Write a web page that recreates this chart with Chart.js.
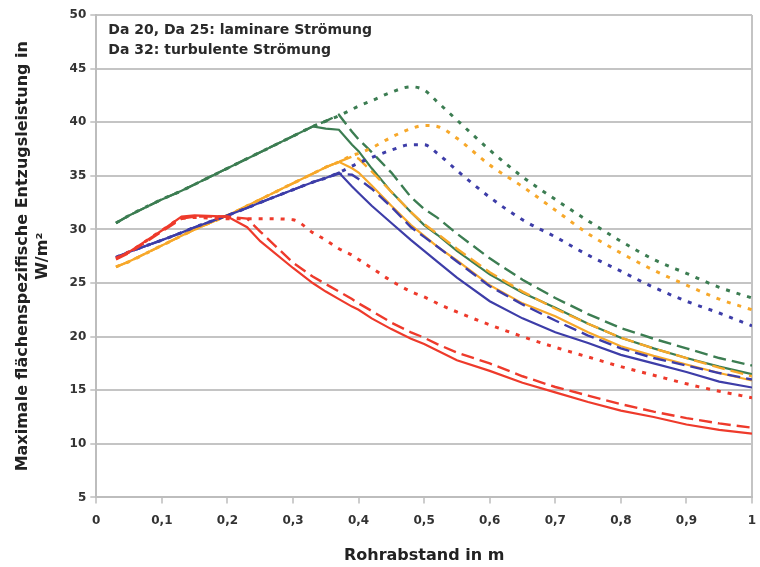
<!DOCTYPE html>
<html>
<head>
<meta charset="utf-8">
<script src="https://cdn.jsdelivr.net/npm/chart.js@4.4.1/dist/chart.umd.min.js"></script>
<style>
html,body{margin:0;padding:0;background:#fff;}
#wrap{width:760px;height:567px;}
</style>
</head>
<body>
<div id="wrap"><canvas id="c" width="760" height="567"></canvas></div>
<script>
// Rohrabstand (m)
const X = [0.03,0.05,0.1,0.13,0.15,0.2,0.23,0.25,0.3,0.33,0.35,0.37,0.39,0.4,0.42,0.45,0.48,0.5,0.52,0.55,0.6,0.65,0.7,0.75,0.8,0.85,0.9,0.95,1.0];

const redSolid     = [27.3,27.9,29.9,31.2,31.3,31.2,30.2,28.9,26.4,25.0,24.2,23.5,22.8,22.5,21.7,20.7,19.8,19.3,18.7,17.8,16.8,15.7,14.8,13.9,13.1,12.5,11.8,11.3,10.95];
const redDashed    = [27.2,27.8,29.8,31.0,31.2,31.2,31.0,29.8,26.9,25.6,24.9,24.2,23.5,23.1,22.4,21.3,20.4,19.9,19.3,18.5,17.5,16.3,15.3,14.5,13.7,13.0,12.4,11.9,11.5];
const redDotted    = [27.3,27.9,29.9,31.0,31.1,31.0,31.0,31.0,30.9,29.7,29.0,28.2,27.6,27.2,26.4,25.2,24.2,23.7,23.1,22.3,21.1,20.0,19.0,18.1,17.2,16.4,15.6,14.9,14.3];

const blueSolid    = [27.4,27.9,29.0,29.7,30.2,31.3,32.0,32.5,33.7,34.4,34.8,35.3,34.0,33.4,32.2,30.6,29.0,28.0,27.0,25.5,23.3,21.7,20.4,19.4,18.3,17.5,16.7,15.8,15.25];
const blueDashed   = [27.4,27.9,29.0,29.7,30.2,31.3,32.0,32.5,33.7,34.4,34.8,35.2,35.1,34.7,33.8,32.1,30.2,29.3,28.4,27.0,24.7,23.0,21.5,20.1,18.9,18.0,17.3,16.6,16.0];
const blueDotted   = [27.4,27.9,29.0,29.7,30.2,31.3,32.0,32.5,33.7,34.4,34.8,35.3,35.9,36.2,36.7,37.4,37.9,37.9,37.1,35.5,33.0,30.9,29.3,27.6,26.1,24.6,23.3,22.2,21.0];

const orangeSolid  = [26.5,27.0,28.5,29.4,30.0,31.3,32.2,32.8,34.3,35.2,35.8,36.3,35.7,35.3,34.1,32.2,30.4,29.4,28.4,27.1,24.8,23.1,21.9,20.4,19.1,18.2,17.4,16.6,15.9];
const orangeDashed = [26.5,27.0,28.5,29.4,30.0,31.3,32.2,32.8,34.3,35.2,35.8,36.3,36.8,36.6,35.4,33.5,31.6,30.5,29.6,28.2,26.0,24.2,22.6,21.2,19.9,18.9,18.0,17.1,16.3];
const orangeDotted = [26.5,27.0,28.5,29.4,30.0,31.3,32.2,32.8,34.3,35.2,35.8,36.3,36.9,37.1,37.6,38.6,39.4,39.7,39.6,38.5,36.0,34.0,31.8,29.6,27.8,26.2,24.8,23.5,22.5];

const greenSolid   = [30.6,31.3,32.8,33.6,34.2,35.7,36.6,37.2,38.7,39.6,39.4,39.3,37.9,37.3,35.7,33.5,31.6,30.4,29.5,28.0,25.8,24.1,22.7,21.2,19.9,18.9,18.0,17.2,16.5];
const greenDashed  = [30.6,31.3,32.8,33.6,34.2,35.7,36.6,37.2,38.7,39.6,40.1,40.7,39.1,38.4,37.2,35.3,33.0,31.9,31.1,29.6,27.3,25.3,23.6,22.1,20.8,19.8,18.9,18.0,17.3];
const greenDotted  = [30.6,31.3,32.8,33.6,34.2,35.7,36.6,37.2,38.7,39.6,40.1,40.6,41.2,41.5,42.0,42.8,43.3,43.0,41.9,40.2,37.4,34.9,32.8,30.8,28.9,27.2,25.9,24.6,23.6];

const noteLines = ["Da 20, Da 25: laminare Strömung", "Da 32: turbulente Strömung"];
const yTitle = ["Maximale flächenspezifische Entzugsleistung in", "W/m²"];
const xTitle = "Rohrabstand in m";

const COLORS = {red:'#ee3a2b', blue:'#3d3da8', orange:'#f7a82a', green:'#3c7d52'};
const STYLES = {
  solid:  {dash: [],     width: 2.2},
  dashed: {dash: [13,6], width: 2.4},
  dotted: {dash: [4,7],  width: 3}
};

function pts(arr){ return X.map((x,i)=>({x:x, y:arr[i]})).filter(p=>p.y!==null); }
function ds(label, arr, color, style){
  const s = STYLES[style];
  return {
    label: label, data: pts(arr), borderColor: COLORS[color], backgroundColor: COLORS[color],
    borderWidth: s.width, borderDash: s.dash, pointRadius: 0, fill: false,
    tension: 0, cubicInterpolationMode: style==='dotted' ? 'monotone' : 'default'
  };
}

const datasets = [
  ds('rot Da 20', redSolid, 'red', 'solid'),
  ds('rot Da 25', redDashed, 'red', 'dashed'),
  ds('rot Da 32', redDotted, 'red', 'dotted'),
  ds('blau Da 20', blueSolid, 'blue', 'solid'),
  ds('blau Da 25', blueDashed, 'blue', 'dashed'),
  ds('blau Da 32', blueDotted, 'blue', 'dotted'),
  ds('orange Da 20', orangeSolid, 'orange', 'solid'),
  ds('orange Da 25', orangeDashed, 'orange', 'dashed'),
  ds('orange Da 32', orangeDotted, 'orange', 'dotted'),
  ds('grün Da 20', greenSolid, 'green', 'solid'),
  ds('grün Da 25', greenDashed, 'green', 'dashed'),
  ds('grün Da 32', greenDotted, 'green', 'dotted')
];

const FONT = "'DejaVu Sans', 'Liberation Sans', Arial, sans-serif";

const notePlugin = {
  id: 'note',
  afterDraw(chart){
    const ctx = chart.ctx, a = chart.chartArea;
    ctx.save();
    ctx.font = "bold 14px " + FONT;
    ctx.fillStyle = '#2a2a2a';
    ctx.textBaseline = 'middle';
    ctx.textAlign = 'left';
    noteLines.forEach((t,i)=> ctx.fillText(t, a.left + 12, a.top + 15 + i*20));
    ctx.restore();
  }
};

new Chart(document.getElementById('c'), {
  type: 'line',
  data: { datasets: datasets },
  plugins: [notePlugin],
  options: {
    responsive: false,
    animation: false,
    layout: { padding: { left: 12, right: 0, top: 15, bottom: 2 } },
    plugins: { legend: { display: false }, tooltip: { enabled: false } },
    scales: {
      x: {
        type: 'linear', min: 0, max: 1,
        afterFit: (s) => { s.paddingRight = 8; },
        border: { display: true, color: '#bdbdbd', width: 2 },
        grid: {
          drawOnChartArea: true,
          color: (c) => (c.tick && Math.abs(c.tick.value - 1) < 1e-9) ? '#c4c4c4' : 'rgba(0,0,0,0)',
          lineWidth: 2,
          tickColor: '#bdbdbd', tickLength: 6, tickWidth: 1.5
        },
        ticks: {
          stepSize: 0.1, color: '#333', padding: 10,
          font: { family: FONT, size: 12, weight: 'bold' },
          maxRotation: 0,
          callback: (v) => {
            const r = Math.round(v*10)/10;
            if (r === 0) return '0';
            if (r === 1) return '1';
            return r.toFixed(1).replace('.', ',');
          }
        },
        title: {
          display: true, text: xTitle, color: '#222',
          font: { family: FONT, size: 16, weight: 'bold' },
          padding: { top: 8, bottom: 0 }
        }
      },
      y: {
        min: 5, max: 50,
        border: { display: true, color: '#bdbdbd', width: 2 },
        grid: { color: '#c4c4c4', lineWidth: 2, tickColor: '#bdbdbd', tickLength: 6, tickWidth: 1.5 },
        ticks: {
          stepSize: 5, color: '#333', padding: 4,
          font: { family: FONT, size: 12, weight: 'bold' }
        },
        title: {
          display: true, text: yTitle, color: '#222',
          font: { family: FONT, size: 16, weight: 'bold', lineHeight: 1.3 },
          padding: { top: 0, bottom: 12 }
        }
      }
    }
  }
});
</script>
</body>
</html>
